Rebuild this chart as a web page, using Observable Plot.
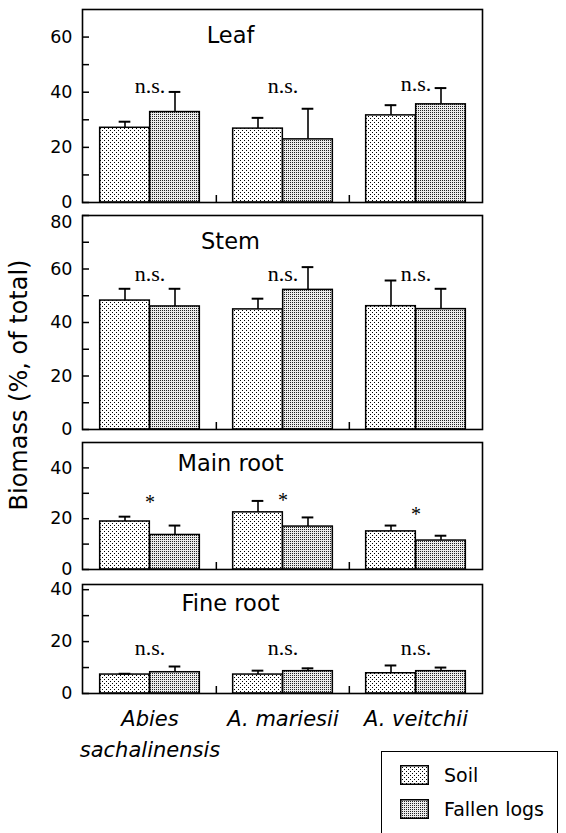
<!DOCTYPE html>
<html><head><meta charset="utf-8">
<script src="https://cdn.jsdelivr.net/npm/d3@7"></script>
<script src="https://cdn.jsdelivr.net/npm/@observablehq/plot@0.6"></script>
<style>
body{margin:0;background:#fff;font-family:"DejaVu Sans",sans-serif;}
#wrap{position:relative;width:566px;height:833px;overflow:hidden;}
#wrap svg.panel{display:block;overflow:visible;background:transparent;}
#ylab{position:absolute;left:19px;top:385px;transform:translate(-50%,-50%) rotate(-90deg);white-space:nowrap;font-size:24px;color:#000;}
#legend{position:absolute;left:381px;top:751px;width:177px;height:100px;border:1.5px solid #000;box-sizing:border-box;}
.lg-item{position:absolute;left:18px;display:flex;align-items:center;font-size:19px;}
.lg-item svg{margin-right:15px;}
</style></head><body>
<svg width="0" height="0" style="position:absolute">
<defs>
<pattern id="soilPat" width="4" height="4" patternUnits="userSpaceOnUse">
<rect width="4" height="4" fill="#fff"/>
<rect x="0" y="0" width="1" height="1" fill="#000"/>
<rect x="2" y="2" width="1" height="1" fill="#000"/>
</pattern>
<pattern id="logPat" width="2" height="2" patternUnits="userSpaceOnUse">
<rect width="2" height="2" fill="#ececec"/>
<rect x="0" y="0" width="1" height="1" fill="#222"/>
</pattern>
</defs></svg>
<div id="wrap"></div>
<script>
// ---- data ----
const species = ["Abies sachalinensis", "A. mariesii", "A. veitchii"];
const speciesLabels = ["Abies\nsachalinensis", "A. mariesii", "A. veitchii"];
const treatments = ["Soil", "Fallen logs"];
const panelNames = ["Leaf", "Stem", "Main root", "Fine root"];

const leafSoil = [27.1, 26.8, 31.6];
const leafSoilSE = [2.2, 3.9, 3.7];
const leafLogs = [32.8, 22.9, 35.6];
const leafLogsSE = [7.3, 11.1, 5.9];

const stemSoil = [48.2, 44.9, 46.1];
const stemSoilSE = [4.4, 4.0, 9.6];
const stemLogs = [46.0, 52.2, 45.0];
const stemLogsSE = [6.6, 8.5, 7.6];

const mainSoil = [18.9, 22.5, 15.0];
const mainSoilSE = [1.9, 4.5, 2.3];
const mainLogs = [13.6, 16.9, 11.4];
const mainLogsSE = [3.7, 3.6, 1.9];

const fineSoil = [7.3, 7.3, 7.8];
const fineSoilSE = [0.3, 1.5, 3.0];
const fineLogs = [8.2, 8.6, 8.6];
const fineLogsSE = [2.2, 1.1, 1.4];

const leafSig = ["n.s.", "n.s.", "n.s."];
const stemSig = ["n.s.", "n.s.", "n.s."];
const mainSig = ["*", "*", "*"];
const fineSig = ["n.s.", "n.s.", "n.s."];
const leafSigAt = [42.3, 42.3, 43.0];
const stemSigAt = [58.3, 58.3, 58.3];
const mainSigAt = [26.3, 27.0, 21.6];
const fineSigAt = [17.5, 17.5, 17.5];

const leafDomain = [0, 70], stemDomain = [0, 80], mainDomain = [0, 50], fineDomain = [0, 42];
const leafTicks = [0, 20, 40, 60], stemTicks = [0, 20, 40, 60, 80], mainTicks = [0, 20, 40], fineTicks = [0, 20, 40];
const leafMinor = [10, 30, 50], stemMinor = [10, 30, 50, 70], mainMinor = [10, 30], fineMinor = [10, 30];

// ---- panels ----
const panels = [
  {name: panelNames[0], soil: leafSoil, soilSE: leafSoilSE, logs: leafLogs, logsSE: leafLogsSE, sig: leafSig, sigAt: leafSigAt, domain: leafDomain, ticks: leafTicks, minor: leafMinor},
  {name: panelNames[1], soil: stemSoil, soilSE: stemSoilSE, logs: stemLogs, logsSE: stemLogsSE, sig: stemSig, sigAt: stemSigAt, domain: stemDomain, ticks: stemTicks, minor: stemMinor},
  {name: panelNames[2], soil: mainSoil, soilSE: mainSoilSE, logs: mainLogs, logsSE: mainLogsSE, sig: mainSig, sigAt: mainSigAt, domain: mainDomain, ticks: mainTicks, minor: mainMinor},
  {name: panelNames[3], soil: fineSoil, soilSE: fineSoilSE, logs: fineLogs, logsSE: fineLogsSE, sig: fineSig, sigAt: fineSigAt, domain: fineDomain, ticks: fineTicks, minor: fineMinor}
];
const layout = [
  {mt: 9, fh: 193, mb: 6, titleDy: 18, topLabelDy: 0},
  {mt: 7, fh: 214, mb: 6, titleDy: 18, topLabelDy: 7},
  {mt: 7, fh: 127, mb: 6, titleDy: 13, topLabelDy: 0},
  {mt: 9, fh: 109, mb: 70, titleDy: 11, topLabelDy: 0}
];
const W = 566, ML = 82, MR = 84, FW = W - ML - MR;
const bw = FW / species.length, gap = bw * 0.125, barW = bw * 0.375, capHalf = 6;
const labelOf = Object.fromEntries(species.map((s, i) => [s, speciesLabels[i]]));

const wrap = document.getElementById("wrap");
panels.forEach((p, k) => {
  const L = layout[k];
  const last = k === panels.length - 1;
  const soil = species.map((s, j) => ({species: s, treatment: treatments[0], value: p.soil[j], se: p.soilSE[j]}));
  const logs = species.map((s, j) => ({species: s, treatment: treatments[1], value: p.logs[j], se: p.logsSE[j]}));
  const ann = species.map((s, j) => ({species: s, label: p.sig[j], y: p.sigAt[j]}));
  const mainLabels = L.topLabelDy ? p.ticks.slice(0, -1) : p.ticks;
  const marks = [
    Plot.barY(soil, {x: "species", y: "value", fill: "url(#soilPat)", stroke: "#000", strokeWidth: 1.5, insetLeft: gap, insetRight: bw / 2}),
    Plot.barY(logs, {x: "species", y: "value", fill: "url(#logPat)", stroke: "#000", strokeWidth: 1.5, insetLeft: bw / 2, insetRight: gap}),
    Plot.ruleX(soil, {x: "species", y1: "value", y2: d => d.value + d.se, dx: -barW / 2, stroke: "#000", strokeWidth: 1.6}),
    Plot.ruleX(logs, {x: "species", y1: "value", y2: d => d.value + d.se, dx: barW / 2, stroke: "#000", strokeWidth: 1.6}),
    Plot.tickY(soil, {x: "species", y: d => d.value + d.se, insetLeft: gap + barW / 2 - capHalf, insetRight: bw - gap - barW / 2 - capHalf, stroke: "#000", strokeWidth: 2}),
    Plot.tickY(logs, {x: "species", y: d => d.value + d.se, insetLeft: bw / 2 + barW / 2 - capHalf, insetRight: gap + barW / 2 - capHalf, stroke: "#000", strokeWidth: 2}),
    Plot.tickY(p.ticks.concat(p.minor), {y: d => d, insetRight: FW - 7, stroke: "#000", strokeWidth: 1.5}),
    Plot.axisY({ticks: mainLabels, tickSize: 0, tickPadding: 10, fontSize: 17.5, label: null}),
    Plot.ruleX(species.slice(1), {x: d => d, dx: -bw / 2, insetTop: L.fh - 7, stroke: "#000", strokeWidth: 1.5}),
    Plot.text(ann, {x: "species", y: "y", text: "label", fontFamily: "'Liberation Serif', 'DejaVu Serif', serif", fontSize: p.sig[0] === "*" ? 20 : 22}),
    Plot.text([p.name], {frameAnchor: "top", lineAnchor: "top", dy: L.titleDy, dx: -52, fontSize: 22.5}),
    Plot.frame({stroke: "#000", strokeWidth: 1.6})
  ];
  if (L.topLabelDy) marks.push(Plot.axisY({ticks: p.ticks.slice(-1), tickSize: 0, tickPadding: 10, dy: L.topLabelDy, fontSize: 17.5, label: null}));
  if (last) marks.push(Plot.axisX({tickSize: 0, tickPadding: 10, tickFormat: d => labelOf[d], fontStyle: "italic", fontSize: 21, lineHeight: 1.5, label: null}));
  const svg = Plot.plot({
    width: W, height: L.mt + L.fh + L.mb,
    marginLeft: ML, marginRight: MR, marginTop: L.mt, marginBottom: L.mb,
    x: {domain: species, padding: 0, axis: null, label: null},
    y: {domain: p.domain, axis: null, label: null},
    style: {fontFamily: "'DejaVu Sans', sans-serif", color: "#000", background: "transparent", overflow: "visible"},
    marks
  });
  svg.classList.add("panel");
  wrap.appendChild(svg);
});

// y label
const yl = document.createElement("div");
yl.id = "ylab";
yl.textContent = "Biomass (%, of total)";
wrap.appendChild(yl);

// legend
const lg = document.createElement("div");
lg.id = "legend";
const pats = ["soilPat", "logPat"];
treatments.forEach((t, i) => {
  const it = document.createElement("div");
  it.className = "lg-item";
  it.style.top = (i === 0 ? 12 : 46) + "px";
  it.innerHTML = `<svg width="29" height="20"><rect x="0.75" y="0.75" width="27.5" height="18.5" fill="url(#${pats[i]})" stroke="#000" stroke-width="1.5"/></svg><span>${t}</span>`;
  lg.appendChild(it);
});
wrap.appendChild(lg);
</script>
</body></html>
